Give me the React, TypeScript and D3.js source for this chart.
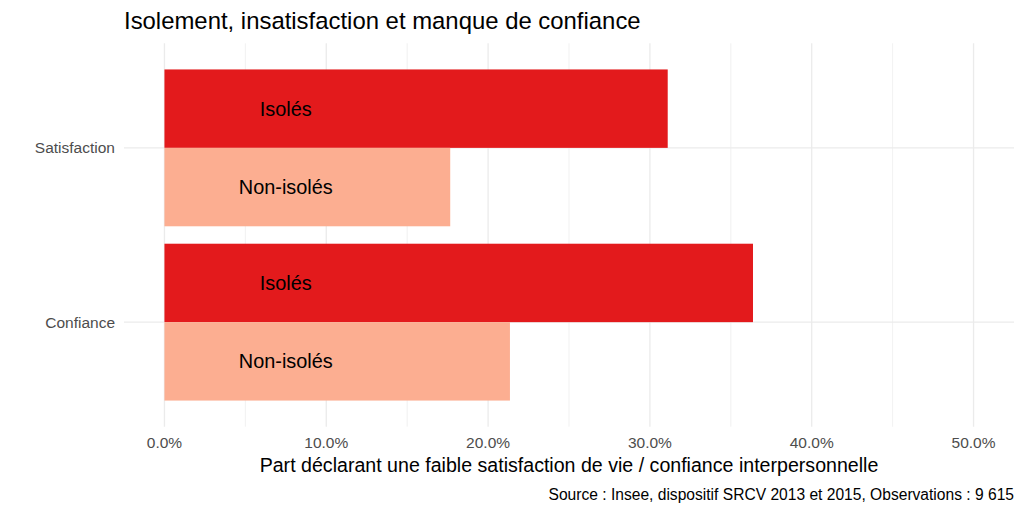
import React from "react";
import * as d3 from "d3";

const categories = ["Confiance", "Satisfaction"];
const groups = ["Isolés", "Non-isolés"];
const isolesValues = [0.3637, 0.311];
const nonIsolesValues = [0.2135, 0.1766];
const xTicks = [0, 0.1, 0.2, 0.3, 0.4, 0.5];
const xMinorTicks = [0.05, 0.15, 0.25, 0.35, 0.45];
const groupColors = ["#E31A1C", "#FCAE91"];
const labelPosition = 0.075;

const title = "Isolement, insatisfaction et manque de confiance";
const xTitle = "Part déclarant une faible satisfaction de vie / confiance interpersonnelle";
const caption = "Source : Insee, dispositif SRCV 2013 et 2015, Observations : 9 615";

export default function App() {
  const W = 1024, H = 512;
  const left = 124, right = 1014, top = 43.3, bottom = 426.7;
  const x = d3.scaleLinear().domain([-0.025, 0.525]).range([left, right]);
  const yc = d3.scaleLinear().domain([0.4, 2.6]).range([bottom, top]);
  const catPos = (c: string) => categories.indexOf(c) + 1;
  const fmt = d3.format(".1%");
  const font = "'Liberation Sans', Arial, Helvetica, sans-serif";

  const rows = categories.flatMap((c, i) => [
    { cat: c, group: groups[0], value: isolesValues[i], gi: 0 },
    { cat: c, group: groups[1], value: nonIsolesValues[i], gi: 1 },
  ]);

  return (
    <svg width={W} height={H} style={{ position: "absolute", left: 0, top: 0, fontFamily: font }}>
      <rect width={W} height={H} fill="#ffffff" />
      {xMinorTicks.map((t) => (
        <line key={"m" + t} x1={x(t)} x2={x(t)} y1={top} y2={bottom} stroke="#ebebeb" strokeWidth={0.7} />
      ))}
      {xTicks.map((t) => (
        <line key={"M" + t} x1={x(t)} x2={x(t)} y1={top} y2={bottom} stroke="#ebebeb" strokeWidth={1.3} />
      ))}
      {categories.map((c) => (
        <line key={"h" + c} x1={left} x2={right} y1={yc(catPos(c))} y2={yc(catPos(c))} stroke="#ebebeb" strokeWidth={1.3} />
      ))}
      {rows.map((r, i) => {
        const p = catPos(r.cat);
        const y0 = r.gi === 0 ? yc(p + 0.45) : yc(p);
        const y1 = r.gi === 0 ? yc(p) : yc(p - 0.45);
        return (
          <g key={i}>
            <rect x={x(0)} y={y0} width={x(r.value) - x(0)} height={y1 - y0} fill={groupColors[r.gi]} />
            <text x={x(labelPosition)} y={(y0 + y1) / 2} textAnchor="middle" dominantBaseline="central" fontSize={19.9} fill="#000">
              {r.group}
            </text>
          </g>
        );
      })}
      {categories.map((c) => (
        <text key={"yl" + c} x={left - 9} y={yc(catPos(c))} textAnchor="end" dominantBaseline="central" fontSize={15.5} fill="#4d4d4d">
          {c}
        </text>
      ))}
      {xTicks.map((t) => (
        <text key={"xl" + t} x={x(t)} y={442} textAnchor="middle" dominantBaseline="central" fontSize={15.5} fill="#4d4d4d">
          {fmt(t)}
        </text>
      ))}
      <text x={(left + right) / 2} y={465} textAnchor="middle" dominantBaseline="central" fontSize={19.6} fill="#000">
        {xTitle}
      </text>
      <text x={right} y={494} textAnchor="end" dominantBaseline="central" fontSize={15.6} fill="#000">
        {caption}
      </text>
      <text x={left} y={20} textAnchor="start" dominantBaseline="central" fontSize={23.9} fill="#000">
        {title}
      </text>
    </svg>
  );
}
